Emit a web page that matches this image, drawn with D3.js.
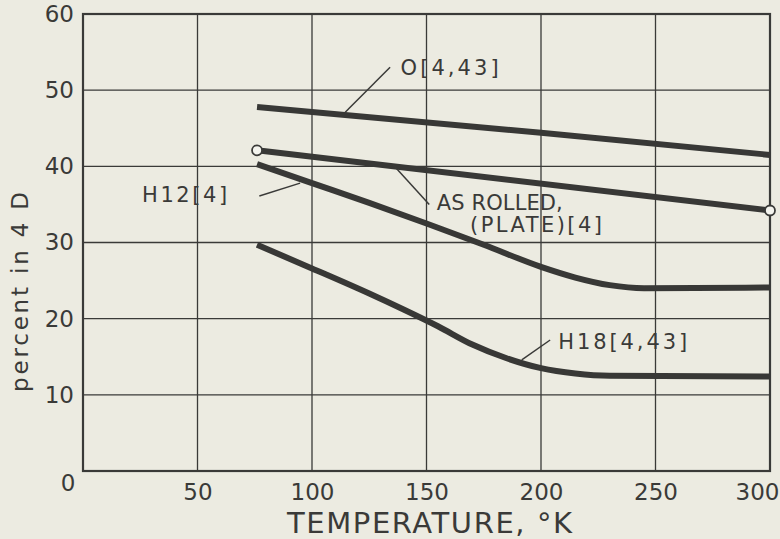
<!DOCTYPE html>
<html>
<head>
<meta charset="utf-8">
<script src="https://cdn.jsdelivr.net/npm/d3@7/dist/d3.min.js"></script>
<style>
  html, body { margin: 0; padding: 0; background: #ecebe1; }
  svg { display: block; }
  text { font-family: "DejaVu Sans", sans-serif; fill: #3a3a38; }
</style>
</head>
<body>
<svg id="chart" width="780" height="539"></svg>
<script>
// ---- data ----
const xTicks = [50, 100, 150, 200, 250, 300];
const yTicks = [10, 20, 30, 40, 50, 60];

const tempO = [76, 200, 300];
const valO  = [47.8, 44.4, 41.5];

const tempRolled = [76, 300];
const valRolled  = [42.1, 34.2];

const tempH12 = [76, 100, 125, 150, 175, 200, 215, 230, 245, 300];
const valH12  = [40.3, 37.8, 35.2, 32.5, 29.7, 26.8, 25.4, 24.4, 24.0, 24.1];

const tempH18 = [76, 100, 125, 140, 155, 170, 185, 200, 215, 230, 300];
const valH18  = [29.7, 26.6, 23.3, 21.2, 19.0, 16.6, 14.8, 13.5, 12.8, 12.5, 12.4];

const markerTemps = [76, 300];
const markerVals  = [42.1, 34.2];

// annotation labels and leader lines (in data units)
const labelText   = ["O[4,43]", "H12[4]", "AS ROLLED,", "(PLATE)[4]", "H18[4,43]"];
const labelT      = [138.7, 25.8, 154.5, 169, 207.5];
const labelV      = [52.9, 36.2, 35.2, 32.3, 17.0];
const leaderT1 = [134.1, 77, 135.4, 204];
const leaderV1 = [53.0, 36.1, 40.2, 17.2];
const leaderT2 = [114.5, 94.8, 151.2, 191.6];
const leaderV2 = [47.1, 37.8, 35.0, 14.6];

// ---- layout ----
const svg = d3.select("#chart");
const pL = 83, pR = 770, pT = 14, pB = 471;
const x = d3.scaleLinear().domain([0, 300]).range([pL, pR]);
const y = d3.scaleLinear().domain([0, 60]).range([pB, pT]);
const ink = "#3a3a38";
const labelWidths = [98, 85, 126, 132, 129];

// grid
const g = svg.append("g");
g.selectAll("line.vg").data(xTicks.slice(0, -1)).enter().append("line")
  .attr("x1", d => x(d)).attr("x2", d => x(d))
  .attr("y1", pT).attr("y2", pB)
  .attr("stroke", ink).attr("stroke-width", 1.3);
g.selectAll("line.hg").data(yTicks.slice(0, -1)).enter().append("line")
  .attr("x1", pL).attr("x2", pR)
  .attr("y1", d => y(d)).attr("y2", d => y(d))
  .attr("stroke", ink).attr("stroke-width", 1.3);
g.append("rect").attr("x", pL).attr("y", pT)
  .attr("width", pR - pL).attr("height", pB - pT)
  .attr("fill", "none").attr("stroke", ink).attr("stroke-width", 2.2);

// axes (labels only)
const xAxis = svg.append("g").attr("transform", `translate(0,${pB})`)
  .call(d3.axisBottom(x).tickValues(xTicks).tickSize(0).tickPadding(8));
const yAxis = svg.append("g").attr("transform", `translate(${pL},0)`)
  .call(d3.axisLeft(y).tickValues(yTicks).tickSize(0).tickPadding(9));
[xAxis, yAxis].forEach(a => {
  a.select(".domain").remove();
  a.selectAll("text").attr("font-size", 23).attr("fill", ink)
    .attr("font-family", "DejaVu Sans, sans-serif");
});
xAxis.selectAll("text").attr("dy", "0.9em");
xAxis.selectAll("text").filter(d => d === 300)
  .attr("text-anchor", "end").attr("dx", 9);
svg.append("text").attr("x", x(0) - 15).attr("y", y(0) + 12)
  .attr("text-anchor", "middle").attr("dominant-baseline", "central")
  .attr("font-size", 23).text("0");

// axis titles
svg.append("text").attr("x", (x(0) + x(300)) / 2 + 3).attr("y", 533)
  .attr("text-anchor", "middle")
  .attr("font-size", 29).attr("textLength", 285).attr("lengthAdjust", "spacing")
  .text("TEMPERATURE, °K");
svg.append("text")
  .attr("transform", `translate(20,${y(23.5)}) rotate(-90)`)
  .attr("text-anchor", "middle").attr("dominant-baseline", "central")
  .attr("font-size", 23).attr("textLength", 200).attr("lengthAdjust", "spacing")
  .text("percent in 4 D");

// curves
const series = [[tempO, valO], [tempRolled, valRolled], [tempH12, valH12], [tempH18, valH18]];
const line = d3.line().x(d => x(d[0])).y(d => y(d[1])).curve(d3.curveMonotoneX);
series.forEach(([t, v]) => {
  svg.append("path").datum(t.map((d, i) => [d, v[i]]))
    .attr("d", line).attr("fill", "none")
    .attr("stroke", "#383836").attr("stroke-width", 6);
});

// open circle markers
svg.selectAll("circle.m").data(markerTemps.map((d, i) => [d, markerVals[i]])).enter()
  .append("circle").attr("cx", d => x(d[0])).attr("cy", d => y(d[1])).attr("r", 5)
  .attr("fill", "#f4f4ee").attr("stroke", ink).attr("stroke-width", 1.8);

// leaders
svg.selectAll("line.ld").data(leaderT1).enter().append("line")
  .attr("x1", (d, i) => x(d)).attr("y1", (d, i) => y(leaderV1[i]))
  .attr("x2", (d, i) => x(leaderT2[i])).attr("y2", (d, i) => y(leaderV2[i]))
  .attr("stroke", ink).attr("stroke-width", 1.5);

// labels
svg.selectAll("text.lab").data(labelText).enter().append("text")
  .attr("x", (d, i) => x(labelT[i])).attr("y", (d, i) => y(labelV[i]))
  .attr("dominant-baseline", "central").attr("font-size", 21)
  .attr("textLength", (d, i) => labelWidths[i]).attr("lengthAdjust", "spacing")
  .text(d => d);
</script>
</body>
</html>
